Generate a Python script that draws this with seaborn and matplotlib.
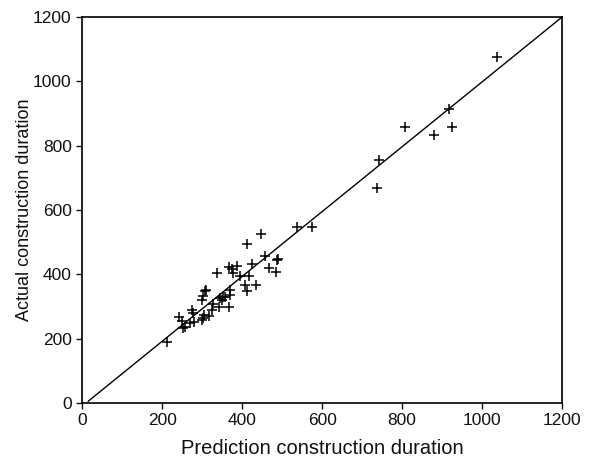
import matplotlib
matplotlib.use("Agg")
import matplotlib.pyplot as plt
import seaborn as sns
import pandas as pd

# predicted vs actual construction duration
pred = [1037, 918, 924, 881, 807, 742, 738, 574, 537, 487, 484, 468, 456, 447,
        412, 424, 418, 435, 407, 412, 388, 377, 368, 374, 395, 370, 370, 366,
        337, 349, 353, 343, 328, 310, 302, 299, 345, 357, 324, 316, 303, 305,
        299, 280, 278, 274, 270, 257, 253, 249, 243, 212, 307, 490]
actual = [1077, 913, 859, 833, 858, 756, 667, 546, 546, 444, 408, 421, 458, 525,
          494, 431, 396, 366, 367, 348, 427, 403, 422, 417, 395, 351, 336, 297,
          403, 320, 328, 297, 308, 351, 333, 320, 325, 330, 289, 270, 263, 274,
          257, 253, 279, 289, 248, 237, 232, 255, 268, 189, 348, 448]

# reference line
line_x = [15, 1200]
line_y = [5, 1200]

ticks = [0, 200, 400, 600, 800, 1000, 1200]

sns.set_style("ticks")
plt.rcParams['font.family'] = ['Liberation Sans', 'DejaVu Sans']

data = pd.DataFrame({'pred': pred, 'actual': actual})

fig = plt.figure(figsize=(5.91, 4.61), dpi=100)
ax = fig.add_axes([0.139, 0.126, 0.812, 0.837])

sns.lineplot(x=line_x, y=line_y, color='black', linewidth=1.0, ax=ax)
sns.scatterplot(data=data, x='pred', y='actual', marker='+', s=60,
                color='black', linewidth=1.1, ax=ax)

ax.set_xlim(0, 1200)
ax.set_ylim(0, 1200)
ax.set_xticks(ticks)
ax.set_yticks(ticks)
ax.tick_params(direction='out', length=4, width=1, labelsize=12.5, colors='#111111')
for s in ax.spines.values():
    s.set_linewidth(1.2)
    s.set_color('black')
ax.set_xlabel('Prediction construction duration', fontsize=14.5, labelpad=8, color='#111111')
ax.set_ylabel('Actual construction duration', fontsize=13, labelpad=0, color='#111111')

fig.savefig('out.png', dpi=100)
